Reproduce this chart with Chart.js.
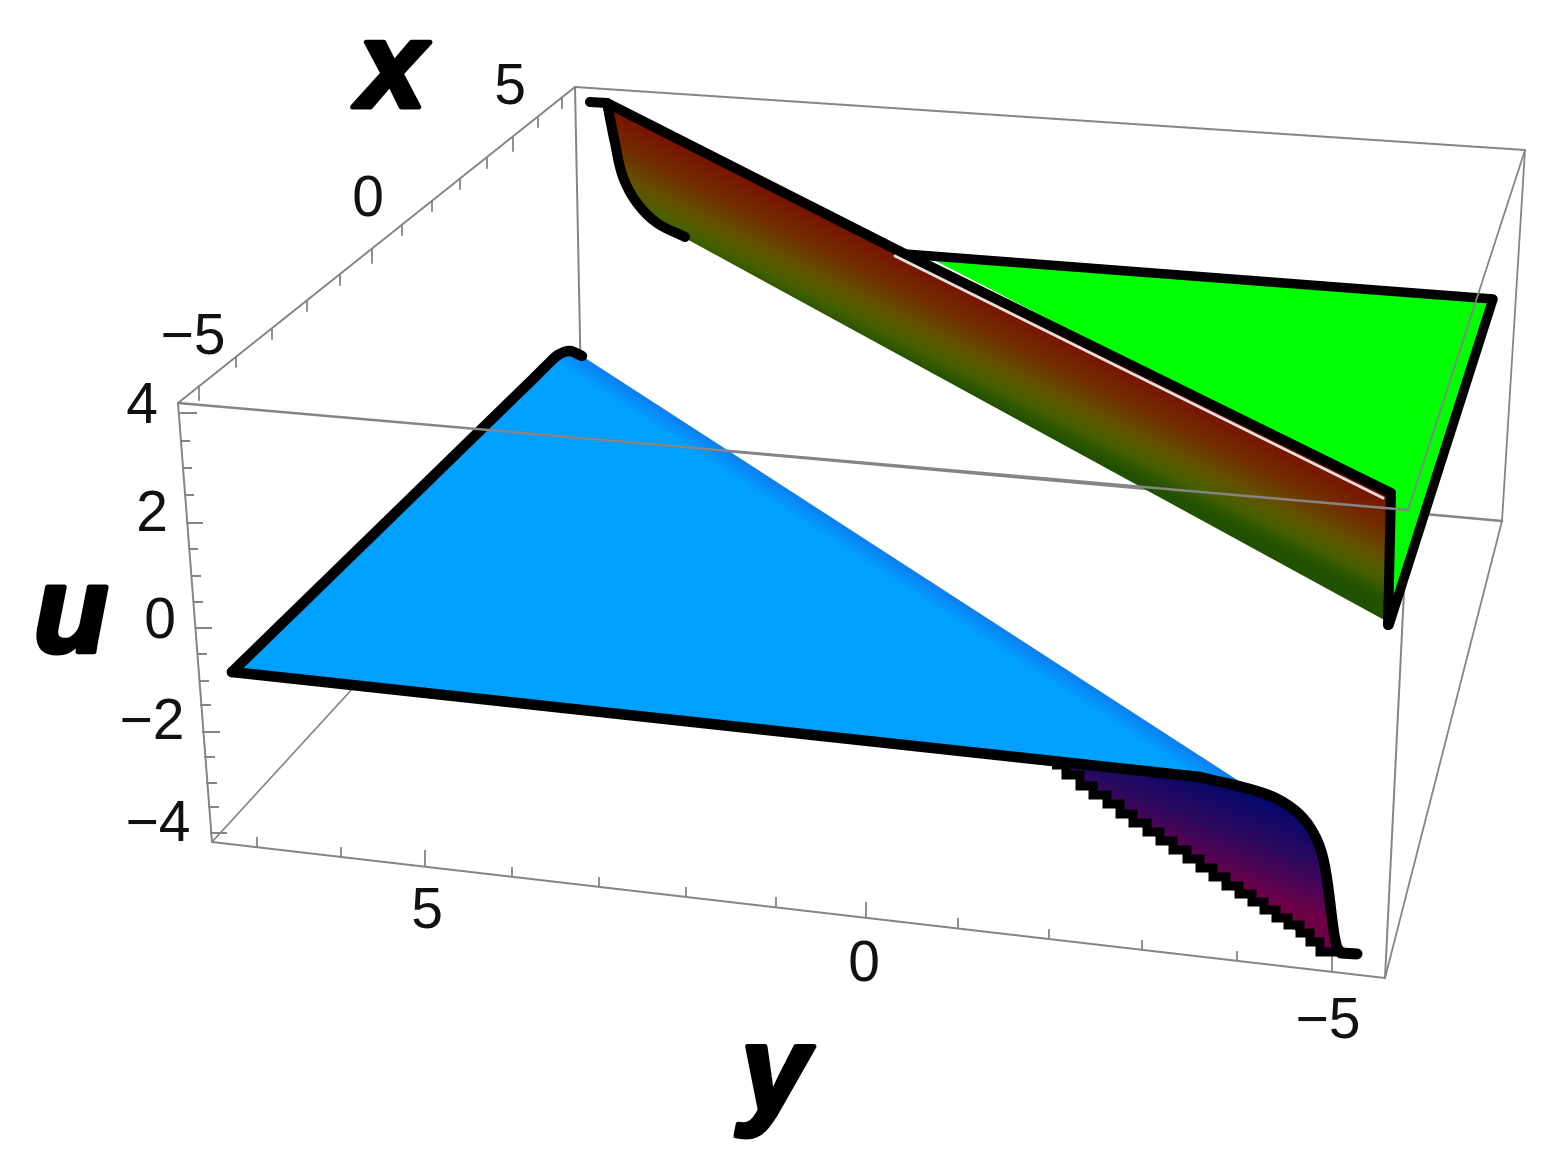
<!DOCTYPE html>
<html>
<head>
<meta charset="utf-8">
<title>u(x, y) surface</title>
<script src="https://cdn.jsdelivr.net/npm/chart.js@4"></script>
<style>
  html, body { margin: 0; padding: 0; background: #fff; }
  canvas { display: block; filter: blur(0.6px); }
</style>
</head>
<body>
<canvas id="myChart" width="1550" height="1166"></canvas>
<script>
const boxBackTop = [[575, 87], [1525, 150], [1502, 521], [1385, 978]];
const boxBackLeft = [[575, 87], [582, 438]];
const boxFloorDiagonal = [[212, 842], [582, 438]];
const boxFloorBack = [[582, 438], [1502, 521]];
const boxFrontRight = [[1408, 510], [1385, 978]];
const boxFrontLeft = [[178, 403], [212, 842], [1385, 978]];
const boxTopSide = [[178, 403], [575, 87]];
const boxRightTop = [[1408, 510], [1525, 150]];
const boxFrontTop = [[178, 403], [1408, 510]];

const greenFace = [[930, 258], [1492, 298], [1390, 622], [1390, 495]];
const greenEdge = [[905, 254], [1493, 299], [1389, 625]];

const brownFace = [[606, 104], [1390, 495], [1388, 622], [683, 237], [657, 223], [637, 203], [623, 177], [615, 143]];
const brownEdge = [[590, 102], [607, 103], [905, 254], [1391, 493], [1388, 625]];
const brownCurve = [[607, 103], [615, 143], [623, 177], [637, 203], [657, 223], [685, 237]];
const whiteSeam = [[895, 256], [1383, 498]];

const blueFace = [[232, 672], [535, 377], [558, 356], [570, 351], [582, 356], [1245, 785], [1040, 760]];
const blueEdge = [[232, 672], [535, 377]];
const blueTip = [[535, 377], [547, 365], [558, 355], [570, 351], [582, 356]];
const lowerEdge = [[232, 672], [1200, 777]];
const lowerCurve = [[1200, 777], [1260, 792], [1283, 802], [1303, 818], [1317, 840], [1325, 867], [1334, 933], [1337, 948]];
const lowerTail = [[1337, 948], [1341, 953], [1357, 954]];

const purpleFace = [[1052, 761], [1200, 777], [1260, 792], [1283, 802], [1303, 818], [1317, 840], [1325, 867], [1334, 933], [1337, 950], [1320, 948], [1250, 898], [1133, 820]];
const purpleSteps = [[1052, 765], [1066, 775], [1080, 786], [1093, 795], [1107, 804], [1120, 814], [1133, 823], [1147, 832], [1160, 841], [1173, 850], [1187, 859], [1200, 868], [1213, 877], [1226, 886], [1239, 894], [1252, 902], [1264, 910], [1276, 918], [1288, 925], [1300, 933], [1310, 942], [1320, 952], [1340, 956]];

/* tick marks: start and end of each one */
const uTicks = [[180, 413, 197, 413], [180, 441, 190, 441], [182, 468, 192, 468], [184, 495, 194, 495], [186, 523, 203, 523], [188, 549, 198, 549], [191, 576, 201, 576], [193, 602, 203, 602], [195, 628, 212, 628], [197, 654, 207, 654], [199, 681, 209, 681], [200, 705, 211, 705], [202, 732, 220, 732], [204, 757, 215, 757], [206, 783, 217, 783], [208, 807, 219, 807], [210, 833, 227, 833]];
const yTicks = [[257, 847, 257, 837], [341, 857, 341, 847], [425, 866, 425, 850], [512, 877, 512, 867], [599, 887, 599, 877], [686, 897, 686, 887], [776, 907, 776, 897], [866, 918, 866, 902], [958, 928, 958, 918], [1049, 939, 1049, 929], [1142, 950, 1142, 940], [1237, 961, 1237, 951], [1332, 972, 1332, 956]];
const xTicks = [[199, 386, 199, 400], [236, 357, 236, 367], [272, 329, 272, 339], [307, 301, 307, 311], [340, 275, 340, 285], [372, 249, 372, 263], [402, 225, 402, 235], [432, 201, 432, 211], [460, 179, 460, 189], [487, 158, 487, 168], [513, 137, 513, 151], [538, 117, 538, 127], [562, 98, 562, 108]];

const tickText = ["5", "0", "\u22125", "4", "2", "0", "\u22122", "\u22124", "5", "0", "\u22125"];
const tickTextX = [510, 368, 193, 142, 152, 160, 152, 158, 427, 864, 1328];
const tickTextY = [88, 200, 338, 407, 515, 622, 723, 825, 912, 965, 1022];

const axisText = ["x", "u", "y"];
const axisTextX = [392, 71, 775];
const axisTextY = [73, 618, 1078];

const canvas = document.getElementById('myChart');
const ctx = canvas.getContext('2d');

function grad(x0, y0, x1, y1, stops) {
  const g = ctx.createLinearGradient(x0, y0, x1, y1);
  stops.forEach(function (s) { g.addColorStop(s[0], s[1]); });
  return g;
}

function toPoints(list) {
  return list.map(function (p) { return { x: p[0], y: p[1] }; });
}

function tickPoints(list) {
  var out = [];
  list.forEach(function (t) {
    out.push({ x: t[0], y: t[1] }, { x: t[2], y: t[3] }, { x: NaN, y: NaN });
  });
  return out;
}

function line(points, color, width, extra) {
  return Object.assign({
    data: points, showLine: true, fill: false, pointRadius: 0, clip: false,
    borderColor: color, borderWidth: width,
    borderJoinStyle: 'round', borderCapStyle: 'round'
  }, extra || {});
}

function face(list, color) {
  return {
    data: toPoints(list), showLine: true, fill: 'shape', pointRadius: 0, clip: false,
    backgroundColor: color, borderWidth: 0, borderColor: 'transparent'
  };
}

const gray = '#858585';
const black = '#000';

const brownFill = grad(800, 202, 757, 288, [[0, '#7a1000'], [0.35, '#703000'], [0.6, '#645200'], [0.8, '#476000'], [1, '#205000']]);
const purpleFill = grad(1290, 810, 1258, 895, [[0, '#04086a'], [0.45, '#2c0860'], [1, '#6e0048']]);
const blueFill = grad(878, 597, 900, 563, [[0, '#00a0ff'], [0.55, '#00a0ff'], [1, '#0c80f0']]);

/* listed back to front */
const layers = [
  line(toPoints(boxBackTop), gray, 1.8),
  line(toPoints(boxBackLeft), gray, 2),
  line(toPoints(boxFloorDiagonal), gray, 1.8),
  line(toPoints(boxFloorBack), gray, 2.6),
  line(toPoints(boxFrontRight), gray, 2),
  line(toPoints(boxFrontLeft), gray, 2),
  line(toPoints(boxTopSide), gray, 2),
  line(tickPoints(uTicks), gray, 1.8, { borderCapStyle: 'butt' }),
  line(tickPoints(yTicks), gray, 1.8, { borderCapStyle: 'butt' }),
  line(tickPoints(xTicks), gray, 1.8, { borderCapStyle: 'butt' }),
  face(greenFace, '#00ff00'),
  line(toPoints(greenEdge), black, 9.5),
  face(brownFace, brownFill),
  line(toPoints(brownCurve), black, 10, { tension: 0.4 }),
  line(toPoints(brownEdge), black, 10),
  line(toPoints(whiteSeam), '#e8dcdc', 3),
  line(toPoints(boxRightTop), gray, 1.8),
  face(purpleFace, purpleFill),
  line(toPoints(purpleSteps), black, 9, { stepped: 'before', borderCapStyle: 'butt', borderJoinStyle: 'miter' }),
  face(blueFace, blueFill),
  line(toPoints(lowerEdge), black, 10.5),
  line(toPoints(lowerCurve), black, 10.5, { tension: 0.4 }),
  line(toPoints(lowerTail), black, 11),
  line(toPoints(blueEdge), black, 10.5),
  line(toPoints(blueTip), black, 10.5, { tension: 0.3 }),
  line(toPoints(boxFrontTop), gray, 2.4)
];

const labelPlugin = {
  id: 'labelPlugin',
  afterDatasetsDraw: function (chart) {
    var c = chart.ctx;
    c.save();
    c.textAlign = 'center';
    c.textBaseline = 'middle';
    c.fillStyle = '#111';
    c.font = '57px "Liberation Sans"';
    tickText.forEach(function (t, i) {
      c.fillText(t, tickTextX[i], tickTextY[i]);
    });
    c.font = 'italic bold 122px "Liberation Sans"';
    c.fillStyle = '#000';
    c.strokeStyle = '#000';
    c.lineWidth = 5;
    c.lineJoin = 'round';
    axisText.forEach(function (t, i) {
      c.fillText(t, axisTextX[i], axisTextY[i]);
      c.strokeText(t, axisTextX[i], axisTextY[i]);
    });
    c.restore();
  }
};

new Chart(ctx, {
  type: 'scatter',
  data: { datasets: layers.slice().reverse() },
  plugins: [labelPlugin],
  options: {
    responsive: false,
    animation: false,
    layout: { padding: 0 },
    plugins: { legend: { display: false }, tooltip: { enabled: false } },
    scales: {
      x: { type: 'linear', min: 0, max: 1550, display: false },
      y: { type: 'linear', min: 0, max: 1166, reverse: true, display: false }
    }
  }
});
</script>
</body>
</html>
